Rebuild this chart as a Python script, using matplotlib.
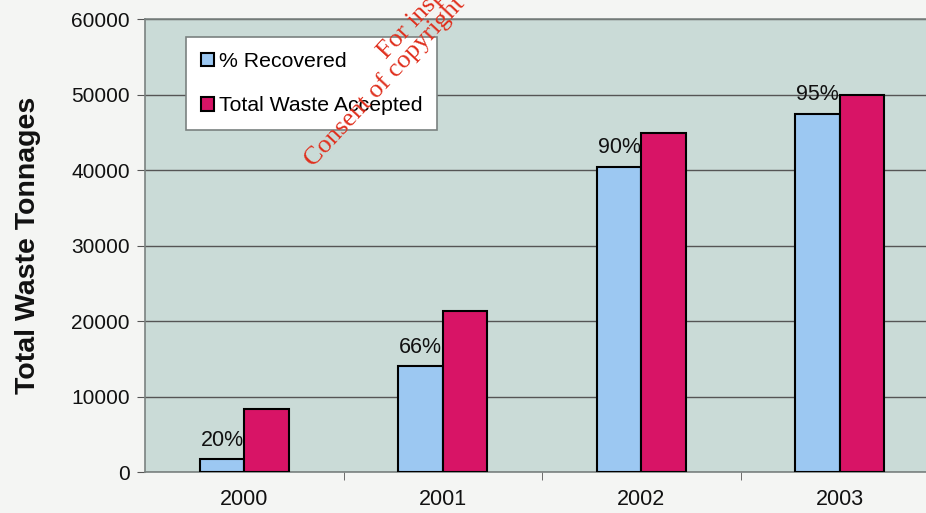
import matplotlib
matplotlib.use("Agg")
import matplotlib.pyplot as plt
import numpy as np

years = ["2000", "2001", "2002", "2003"]
recovered = [1700, 14100, 40500, 47500]
total_accepted = [8450, 21300, 45000, 50000]
pct_labels = ["20%", "66%", "90%", "95%"]

plt.rcParams['font.family'] = ['Liberation Sans', 'DejaVu Sans']

fig = plt.figure(figsize=(9.26, 5.13), dpi=100, facecolor="#f4f5f3")
ax = fig.add_axes([0.1566, 0.0793, 0.8575, 0.8831])
ax.set_facecolor("#cadbd7")

x = np.arange(len(years))
w = 0.224
ax.bar(x - w / 2, recovered, w, color="#9cc8f2", edgecolor="black", linewidth=1.5,
       label="% Recovered", zorder=3)
ax.bar(x + w / 2, total_accepted, w, color="#d81466", edgecolor="black", linewidth=1.5,
       label="Total Waste Accepted", zorder=3)

for xi, val, lab in zip(x, recovered, pct_labels):
    ax.annotate(lab, (xi - w / 2, val), xytext=(0, 6), textcoords="offset points",
                ha="center", va="bottom", fontsize=15.5, color="#111111", zorder=4)

ax.set_xlim(-0.5, 3.5)
ax.set_ylim(0, 60000)
ax.set_yticks(np.arange(0, 60001, 10000))
ax.tick_params(axis="y", labelsize=15, length=6, color="#555555", pad=5,
               labelcolor="#111111")
ax.set_xticks(x)
ax.set_xticklabels(years, fontsize=15.5, color="#111111")
ax.set_xticks(np.arange(0.5, 3.5, 1), minor=True)
ax.tick_params(axis="x", which="major", length=0, pad=12)
ax.tick_params(axis="x", which="minor", length=6, color="#555555")
ax.yaxis.grid(True, color="#555555", linewidth=1, zorder=0)

for side in ["top", "left", "bottom", "right"]:
    ax.spines[side].set_color("#7a8280")
    ax.spines[side].set_linewidth(1.2)

ax.set_ylabel("Total Waste Tonnages", fontsize=20.5, fontweight="bold", labelpad=22,
              color="#111111")

leg = ax.legend(loc="upper left", bbox_to_anchor=(0.0516, 0.961), borderaxespad=0,
                fontsize=15.3, handlelength=0.6, handleheight=0.6, handletextpad=0.25,
                labelspacing=1.2, borderpad=0.7, fancybox=False, framealpha=1)
leg.get_frame().set_edgecolor("#7a8280")
leg.get_frame().set_linewidth(1.2)
leg.set_zorder(5)

# watermark stamped over the scan
fig.text(386 / 926, 1 - 60 / 513, "For inspection purposes only.", rotation=47,
         rotation_mode="anchor", ha="left", va="baseline", fontsize=19,
         color="#e0301e", family=["Liberation Serif", "DejaVu Serif"], zorder=10)
fig.text(313 / 926, 1 - 168 / 513, "Consent of copyright owner required for any other use.",
         rotation=47, rotation_mode="anchor", ha="left", va="baseline", fontsize=19,
         color="#e0301e", family=["Liberation Serif", "DejaVu Serif"], zorder=10)

fig.savefig("out.png", dpi=100, facecolor=fig.get_facecolor())
